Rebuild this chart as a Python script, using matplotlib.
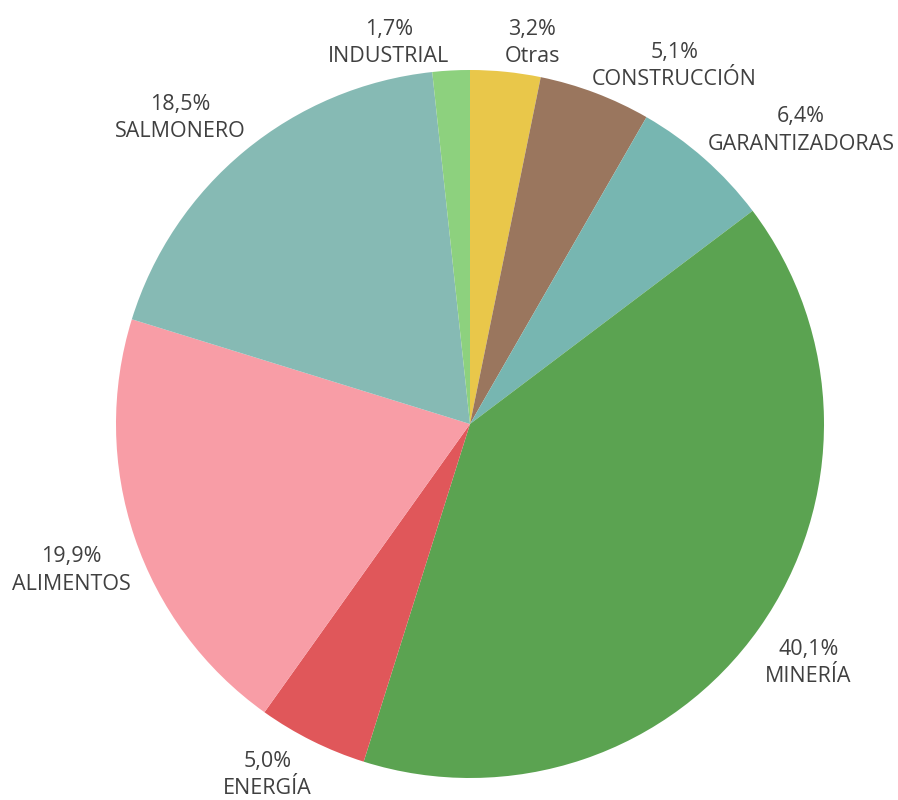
import matplotlib.pyplot as plt
import numpy as np

plt.rcParams["font.family"] = ["Open Sans", "DejaVu Sans"]

# Sectores, en orden horario desde las 12
sectors = ["Otras", "CONSTRUCCIÓN", "GARANTIZADORAS", "MINERÍA",
           "ENERGÍA", "ALIMENTOS", "SALMONERO", "INDUSTRIAL"]
shares = [3.2, 5.1, 6.4, 40.1, 5.0, 19.9, 18.5, 1.7]
colors = ["#E9C74A", "#9A765E", "#77B6B1", "#5BA351",
          "#E0575A", "#F89DA6", "#86BAB4", "#8DD17E"]

# Posición de las etiquetas: (distancia al centro en radios, ajuste de ángulo en grados)
label_layout = [(1.09, -3.5), (1.165, -9), (1.25, -7), (1.17, 0),
                (1.145, -3.5), (1.2, 1.5), (1.19, 4), (1.1, 9)]

W, H = 898, 800
cx, cy, r = 470, 424, 354

fig = plt.figure(figsize=(W / 100, H / 100), dpi=100)
ax = fig.add_axes([(cx - r) / W, (H - cy - r) / H, 2 * r / W, 2 * r / H])

wedges, _ = ax.pie(shares, colors=colors, startangle=90, counterclock=False,
                   radius=1.0, wedgeprops=dict(linewidth=0))

for w, name, val, (dist, dang) in zip(wedges, sectors, shares, label_layout):
    ang = np.deg2rad((w.theta1 + w.theta2) / 2 + dang)
    x, y = dist * np.cos(ang), dist * np.sin(ang)
    txt = f"{val:.1f}".replace(".", ",") + "%\n" + name
    ax.text(x, y, txt, ha="center", va="center", fontsize=15.5,
            color="#404040", linespacing=1.4)

ax.set_xlim(-1, 1)
ax.set_ylim(-1, 1)
ax.set_aspect("equal")
ax.axis("off")

fig.savefig("out.png", dpi=100)
